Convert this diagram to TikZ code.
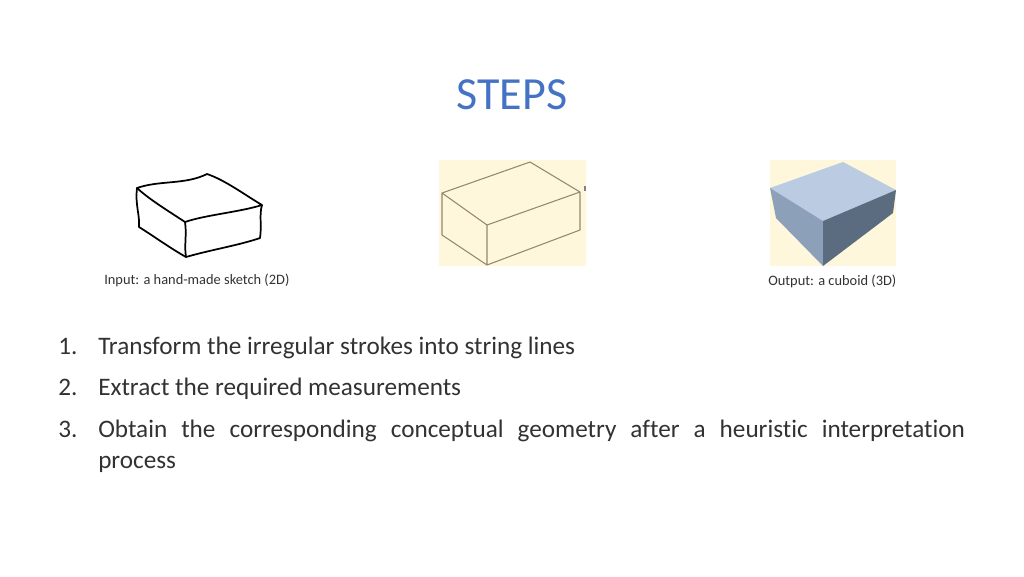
\documentclass[tikz,border=0pt]{standalone}
\usepackage{fontspec}
\setmainfont[Ligatures=NoCommon]{Carlito}
\definecolor{cream}{RGB}{255,247,220}
\definecolor{titleblue}{HTML}{4472C4}
\definecolor{edgebrown}{RGB}{150,135,110}
\definecolor{topblue}{RGB}{186,203,226}
\definecolor{leftblue}{RGB}{140,160,186}
\definecolor{rightblue}{RGB}{92,108,128}
\definecolor{textgrey}{RGB}{50,50,50}
\begin{document}
\begin{tikzpicture}[x=0.75pt,y=-0.75pt,
  captext/.style={anchor=base west,font=\fontsize{10.8}{13}\selectfont,text=textgrey,inner sep=0pt},
  item/.style={anchor=base west,font=\fontsize{18.9}{23.3}\selectfont,text=textgrey,inner sep=0pt}]
\useasboundingbox (0,0) rectangle (1024,576);
\node[text=titleblue,font=\fontsize{34.5}{38}\selectfont] (title) at (512,95) {STEPS};
% sketch
\draw[line width=1.3pt,line join=round] (137,188) .. controls (160,180) and (185,185) .. (207,174)
 .. controls (225,180) and (245,195) .. (262,205) .. controls (240,212) and (205,215) .. (185,222)
 .. controls (170,212) and (150,200) .. (137,188) -- cycle;
\draw[line width=1.3pt,line join=round] (137,188) .. controls (135,205) and (140,215) .. (139,227)
 .. controls (155,237) and (170,248) .. (186,257) .. controls (210,250) and (240,245) .. (260,238)
 .. controls (262,225) and (259,215) .. (262,205);
\draw[line width=1.3pt] (185,222) .. controls (187,235) and (184,245) .. (186,257);
\node[captext] (in) at (104,284) {Input: a hand-made sketch (2D)};
% middle
\fill[cream] (439,160) rectangle (586,266);
\draw[edgebrown,line width=0.8pt,line join=round]
 (442,193) -- (530,162) -- (580,192) -- (487,225) -- cycle
 (442,193) -- (442,235) -- (487,265) -- (580,230) -- (580,192)
 (487,225) -- (487,265);
\draw[gray,line width=0.8pt] (585,186) -- (585,191);
% right
\fill[cream] (770,160) rectangle (896,266);
\fill[topblue] (770,188) -- (843,162) -- (896,190) -- (823,221) -- cycle;
\fill[leftblue] (770,188) -- (823,221) -- (823,266) -- (776,218) -- cycle;
\fill[rightblue] (823,221) -- (896,190) -- (893,213) -- (823,266) -- cycle;
\node[captext] (out) at (768,285) {Output: a cuboid (3D)};
% list
\node[item] (n1) at (58,354) {1.};
\node[item] (t1) at (98,354) {Transform the irregular strokes into string lines};
\node[item] (n2) at (58,395) {2.};
\node[item] (t2) at (98,395) {Extract the required measurements};
\node[item] (n3) at (58,437) {3.};
\node[item,text width=650pt,align=justify] (t3) at (98,437) {Obtain the corresponding conceptual geometry after a heuristic interpretation\linebreak process};
\end{tikzpicture}
\end{document}
